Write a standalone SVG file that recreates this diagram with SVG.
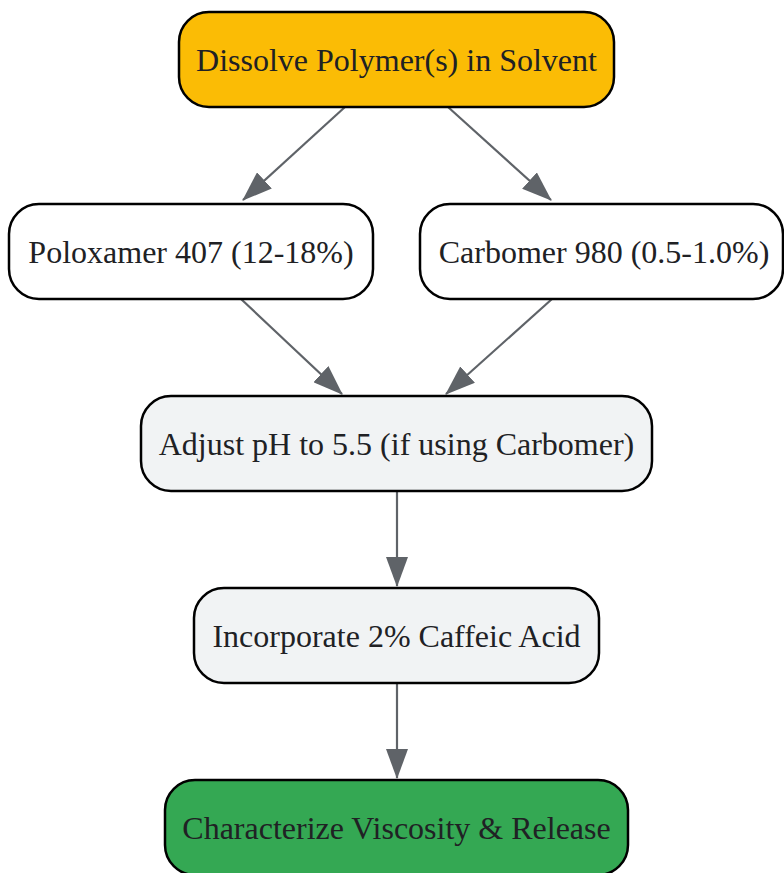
<svg xmlns="http://www.w3.org/2000/svg" width="784" height="873" viewBox="0 0 784 873">
  <style>
    .node rect { stroke: #000000; stroke-width: 2.5; }
    .node text { font-family: "Liberation Serif", "Times New Roman", serif; font-size: 32px; fill: #202124; text-anchor: middle; }
    .edge { stroke: #5f6368; stroke-width: 2.2; fill: none; marker-end: url(#arrow); }
  </style>
  <defs>
    <marker id="arrow" viewBox="0 0 30 22" markerWidth="30" markerHeight="22" refX="29" refY="11" orient="auto" markerUnits="userSpaceOnUse">
      <path d="M0,0 L30,11 L0,22 Z" fill="#5f6368"/>
    </marker>
  </defs>
  <rect width="784" height="873" fill="#ffffff"/>
  <g id="edges">
    <line class="edge" x1="345" y1="107" x2="243" y2="200"/>
    <line class="edge" x1="448" y1="107" x2="551" y2="200"/>
    <line class="edge" x1="241" y1="299" x2="342" y2="394"/>
    <line class="edge" x1="552" y1="299" x2="446" y2="394"/>
    <line class="edge" x1="397" y1="491" x2="397" y2="586"/>
    <line class="edge" x1="397" y1="683" x2="397" y2="778"/>
  </g>
  <g id="dissolve" class="node">
    <rect x="179" y="12" width="435" height="95" rx="30" fill="#fbbc05"/>
    <text x="396.5" y="71">Dissolve Polymer(s) in Solvent</text>
  </g>
  <g id="poloxamer" class="node">
    <rect x="9" y="204" width="364" height="95" rx="30" fill="#ffffff"/>
    <text x="191" y="263">Poloxamer 407 (12-18%)</text>
  </g>
  <g id="carbomer" class="node">
    <rect x="420" y="204" width="363" height="95" rx="30" fill="#ffffff"/>
    <text x="604" y="263">Carbomer 980 (0.5-1.0%)</text>
  </g>
  <g id="adjust" class="node">
    <rect x="141" y="396" width="511" height="95" rx="30" fill="#f1f3f4"/>
    <text x="396.5" y="455">Adjust pH to 5.5 (if using Carbomer)</text>
  </g>
  <g id="incorporate" class="node">
    <rect x="194" y="588" width="405" height="95" rx="30" fill="#f1f3f4"/>
    <text x="396.5" y="647">Incorporate 2% Caffeic Acid</text>
  </g>
  <g id="characterize" class="node">
    <rect x="165" y="780" width="463" height="95" rx="30" fill="#34a853"/>
    <text x="396.5" y="839">Characterize Viscosity &amp; Release</text>
  </g>
</svg>
